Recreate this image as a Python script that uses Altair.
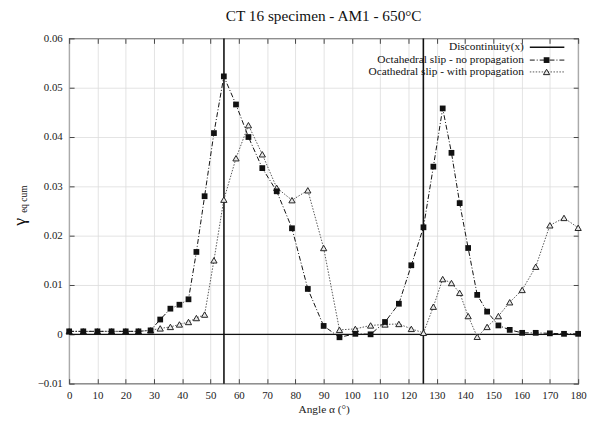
import altair as alt
import pandas as pd

# ---------------- data ----------------
angles = [0, 5, 10, 15, 20, 24.5, 28.8, 32.2, 35.8, 39, 42.2, 45, 47.9, 51.2, 54.7,
          59, 63.4, 68.3, 73.4, 78.8, 84.4, 90, 95.6, 101.2, 106.6, 111.7, 116.6, 121,
          125.3, 128.8, 132.1, 135.2, 138.1, 141.1, 144.3, 147.8, 151.8, 155.8, 160.2,
          165, 170, 175, 180]

no_propagation = [0.0006, 0.0006, 0.0006, 0.0006, 0.0006, 0.0006, 0.0008, 0.0030, 0.0052,
                  0.0060, 0.0071, 0.0167, 0.0280, 0.0408, 0.0523, 0.0466, 0.0400, 0.0337,
                  0.0290, 0.0215, 0.0092, 0.0017, -0.0006, 0.0001, 0.0000, 0.0025, 0.0062,
                  0.0140, 0.0217, 0.0340, 0.0458, 0.0368, 0.0266, 0.0175, 0.0080, 0.0046,
                  0.0018, 0.0009, 0.0003, 0.0003, 0.0002, 0.0001, 0.0001]

with_propagation = [0.0006, 0.0006, 0.0006, 0.0006, 0.0006, 0.0006, 0.0008, 0.0012, 0.0015,
                    0.0020, 0.0025, 0.0033, 0.0040, 0.0150, 0.0273, 0.0357, 0.0424, 0.0365,
                    0.0297, 0.0272, 0.0292, 0.0175, 0.0009, 0.0011, 0.0018, 0.0020, 0.0021,
                    0.0011, 0.0003, 0.0056, 0.0112, 0.0104, 0.0084, 0.0037, -0.0005, 0.0015,
                    0.0037, 0.0065, 0.0090, 0.0137, 0.0221, 0.0236, 0.0216]

discontinuity_x = [54.74, 125.26]
zero_level = [0.0]

x_ticks = list(range(0, 181, 10))
y_ticks = [-0.01, 0.0, 0.01, 0.02, 0.03, 0.04, 0.05, 0.06]

legend_labels = ["Discontinuity(x)",
                 "Octahedral slip - no propagation",
                 "Ocathedral slip - with propagation"]

title_text = "CT 16 specimen - AM1 - 650\u00b0C"
x_title = "Angle \u03b1 (\u00b0)"

FONT = "Liberation Serif"
W, H = 516, 350
TICK = 5

df = pd.DataFrame({"angle": angles, "nop": no_propagation, "wp": with_propagation})

x_scale = alt.Scale(domain=[0, 180], nice=False, zero=False)
y_scale = alt.Scale(domain=[-0.01, 0.06], nice=False, zero=False)

x_enc = alt.X("angle:Q", scale=x_scale,
              axis=alt.Axis(values=x_ticks, title=x_title, format="d", grid=True,
                            ticks=True, tickSize=TICK, offset=-TICK, labelPadding=6,
                            titlePadding=3, domain=False, labelOverlap=False,
                            labelFlush=False))
y_enc = alt.Y("nop:Q", scale=y_scale,
              axis=alt.Axis(values=y_ticks, title=None, grid=True, ticks=True,
                            tickSize=TICK, offset=-TICK, labelPadding=7, domain=False,
                            labelOverlap=False, labelFlush=False,
                            labelExpr="datum.value == 0 ? '0' : format(datum.value, '.2f')"))

base = alt.Chart(df)

# discontinuity lines
vlines = alt.Chart(pd.DataFrame({"x": discontinuity_x})).mark_rule(
    color="#111", strokeWidth=1.6).encode(x=alt.X("x:Q", scale=x_scale, axis=None))
hline = alt.Chart(pd.DataFrame({"y": zero_level})).mark_rule(
    color="#111", strokeWidth=1.4).encode(y=alt.Y("y:Q", scale=y_scale, axis=None))

line_nop = base.mark_line(color="#111", strokeWidth=1, strokeDash=[5, 2, 1, 2]).encode(
    x=x_enc, y=y_enc)
pts_nop = base.mark_point(shape="square", filled=True, color="#111", size=34, opacity=1).encode(
    x=alt.X("angle:Q", scale=x_scale, axis=None), y=alt.Y("nop:Q", scale=y_scale, axis=None))

line_wp = base.mark_line(color="#555", strokeWidth=1, strokeDash=[1.5, 1.5]).encode(
    x=alt.X("angle:Q", scale=x_scale, axis=None), y=alt.Y("wp:Q", scale=y_scale, axis=None))
pts_wp = base.mark_point(shape="triangle-up", filled=True, fill="#e8e8e8", stroke="#222",
                         strokeWidth=1, size=40, opacity=1).encode(
    x=alt.X("angle:Q", scale=x_scale, axis=None), y=alt.Y("wp:Q", scale=y_scale, axis=None))

# mirrored inward ticks on top and right borders
mirror = base.mark_point(opacity=0).encode(
    x=alt.X("angle:Q", scale=x_scale,
            axis=alt.Axis(orient="top", values=x_ticks, labels=False, title=None, grid=False,
                          ticks=True, tickSize=TICK, offset=-TICK, domain=False)),
    y=alt.Y("wp:Q", scale=y_scale,
            axis=alt.Axis(orient="right", values=y_ticks, labels=False, title=None, grid=False,
                          ticks=True, tickSize=TICK, offset=-TICK, domain=False)))

main = alt.layer(line_nop, mirror).resolve_axis(x="independent", y="independent")

layers = [vlines, hline, line_wp, main, pts_wp, pts_nop]

# y-axis title with subscript
ytitle_main = alt.Chart(pd.DataFrame({"t": ["\u03b3"]})).mark_text(
    font=FONT, fontSize=18, angle=270, align="center", baseline="middle", color="#111").encode(
    text="t:N", x=alt.value(-50), y=alt.value(186))
ytitle_sub = alt.Chart(pd.DataFrame({"t": ["eq cum"]})).mark_text(
    font=FONT, fontSize=9.5, angle=270, align="center", baseline="middle", color="#111").encode(
    text="t:N", x=alt.value(-46), y=alt.value(163))
layers += [ytitle_main, ytitle_sub]

# manual legend (gnuplot style: label then sample at right)
rows = [9, 22, 34]
text_right = 461
for i, lab in enumerate(legend_labels):
    ldf = pd.DataFrame({"t": [lab]})
    layers.append(alt.Chart(ldf).mark_text(font=FONT, fontSize=11.5, align="right",
                                           baseline="middle", color="#111").encode(
        text="t:N", x=alt.value(text_right), y=alt.value(rows[i])))
    if i == 0:
        layers.append(alt.Chart(ldf).mark_rule(color="#111", strokeWidth=1.4).encode(
            x=alt.value(467), x2=alt.value(502), y=alt.value(rows[i])))
    elif i == 1:
        layers.append(alt.Chart(ldf).mark_rule(color="#111", strokeWidth=1,
                                               strokeDash=[5, 2, 1, 2]).encode(
            x=alt.value(467), x2=alt.value(502), y=alt.value(rows[i])))
        layers.append(alt.Chart(ldf).mark_point(shape="square", filled=True, color="#111",
                                                size=34, opacity=1).encode(
            x=alt.value(484), y=alt.value(rows[i])))
    else:
        layers.append(alt.Chart(ldf).mark_rule(color="#555", strokeWidth=1,
                                               strokeDash=[1.5, 1.5]).encode(
            x=alt.value(467), x2=alt.value(502), y=alt.value(rows[i])))
        layers.append(alt.Chart(ldf).mark_point(shape="triangle-up", filled=True,
                                                fill="#e8e8e8", stroke="#222", strokeWidth=1,
                                                size=40, opacity=1).encode(
            x=alt.value(484), y=alt.value(rows[i])))

chart = alt.layer(*layers).properties(
    width=W, height=H,
    title=alt.TitleParams(title_text, font=FONT, fontSize=15.5, fontWeight="normal",
                          color="#111", anchor="middle", offset=8),
    autosize=alt.AutoSizeParams(type="none"),
    padding={"left": 62, "top": 28, "right": 11, "bottom": 30},
).configure_view(
    stroke="#444", strokeWidth=1.2
).configure_axis(
    labelFont=FONT, titleFont=FONT, labelFontSize=11, titleFontSize=11.5,
    labelColor="#222", titleColor="#222", titleFontWeight="normal",
    gridColor="#dcdcdc", gridWidth=0.8, tickColor="#444", tickWidth=1
)

chart.save("out.html", embed_options={"renderer": "svg", "actions": False})
